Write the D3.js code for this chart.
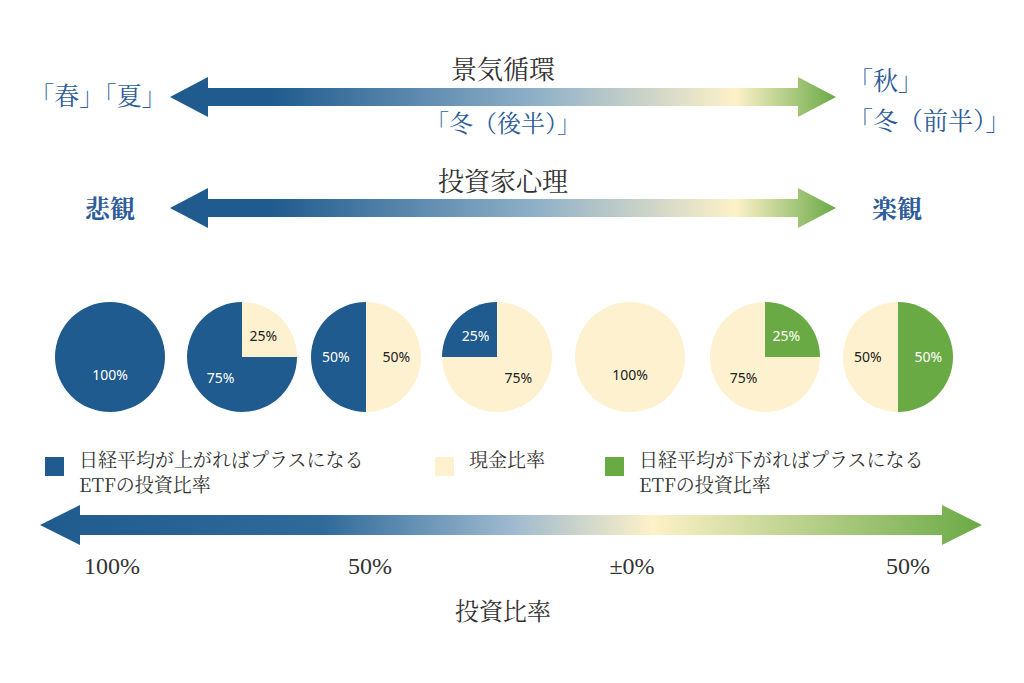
<!DOCTYPE html>
<html><head><meta charset="utf-8">
<script src="https://cdn.jsdelivr.net/npm/d3@7"></script>
<style>body{margin:0;background:#fff}svg{display:block}</style>
</head><body>
<svg id="c" width="1024" height="683"></svg>
<script>
const BLUE = "#1f5b8e", CREAM = "#fdf1cf", GREEN = "#6aaa45";

// pies: [green, cash, long ETF]
const pieNames = ["green", "cash", "blue"];
const pieValues = [
  [0, 0, 100], [0, 25, 75], [0, 50, 50], [0, 75, 25],
  [0, 100, 0], [25, 75, 0], [50, 50, 0]
];
const bottomTicks = ["100%", "50%", "±0%", "50%"];
const legendItems = [
  ["日経平均が上がればプラスになる", "ETFの投資比率"],
  ["現金比率"],
  ["日経平均が下がればプラスになる", "ETFの投資比率"]
];

const svg = d3.select("#c");
const defs = svg.append("defs");
function grad(id, stops) {
  const g = defs.append("linearGradient").attr("id", id);
  stops.forEach(([o, c]) => g.append("stop").attr("offset", o).attr("stop-color", c));
}
grad("g1", [[0, BLUE], [0.15, BLUE], [0.55, "#8fb0c8"], [0.85, "#fdf1c8"], [1, GREEN]]);
grad("g3", [[0, BLUE], [0.3, "#2f6a99"], [0.5, "#9db9cf"], [0.65, "#fdf1c8"], [1, GREEN]]);

function arrow(x0, x1, y, fill, shaft = 9, head = 20, hl = 38) {
  const p = d3.path();
  p.moveTo(x0, y); p.lineTo(x0 + hl, y - head); p.lineTo(x0 + hl, y - shaft);
  p.lineTo(x1 - hl, y - shaft); p.lineTo(x1 - hl, y - head); p.lineTo(x1, y);
  p.lineTo(x1 - hl, y + head); p.lineTo(x1 - hl, y + shaft); p.lineTo(x0 + hl, y + shaft);
  p.lineTo(x0 + hl, y + head); p.closePath();
  svg.append("path").attr("d", p.toString()).attr("fill", fill);
}
arrow(170, 836, 97, "url(#g1)");
arrow(170, 836, 208, "url(#g1)");
arrow(40, 982, 525, "url(#g3)", 10, 20, 40);

function txt(x, y, s, opt = {}) {
  svg.append("text").attr("x", x).attr("y", y).text(s)
    .attr("text-anchor", opt.a || "middle")
    .attr("font-family", opt.f || "'Noto Serif CJK JP','Noto Sans CJK JP',serif")
    .attr("font-size", opt.s || 24).attr("font-weight", opt.w || 400)
    .attr("fill", opt.c || "#333");
}
const SB = "#2d5c99";
txt(503, 79, "景気循環", {s: 26});
txt(503, 132, "「冬（後半）」", {c: SB});
txt(98, 105, "「春」「夏」", {c: SB, s: 25});
txt(848, 90, "「秋」", {c: SB, a: "start", s: 25});
txt(848, 130, "「冬（前半）」", {c: SB, a: "start", s: 25});
txt(503, 191, "投資家心理", {s: 26});
txt(110, 218, "悲観", {c: SB, w: 700, s: 25});
txt(897, 218, "楽観", {c: SB, w: 700, s: 25});

const cx = [110, 242, 366, 497, 630, 765, 898], cy = 357, r = 55;
const arc = d3.arc().innerRadius(0).outerRadius(r);
const lab = d3.arc().innerRadius(r * 0.55).outerRadius(r * 0.55);
const col = {green: GREEN, cash: CREAM, blue: BLUE};
pieValues.forEach((vals, i) => {
  const g = svg.append("g").attr("transform", `translate(${cx[i]},${cy})`);
  const arcs = d3.pie().sort(null).value(d => d.v)(vals.map((v, k) => ({n: pieNames[k], v})).filter(d => d.v > 0));
  g.selectAll("path").data(arcs).join("path").attr("d", arc).attr("fill", d => col[d.data.n]);
  g.selectAll("text").data(arcs).join("text")
    .attr("transform", d => d.data.v === 100 ? "translate(0,18)" : `translate(${lab.centroid(d)})`)
    .attr("text-anchor", "middle").attr("dy", "0.35em")
    .attr("font-family", "'Noto Sans',sans-serif").attr("font-size", 14)
    .attr("fill", d => d.data.n === "cash" ? "#222" : "#fff")
    .text(d => d.data.v + "%");
});

const lx = [45, 435, 605], lc = [BLUE, CREAM, GREEN];
legendItems.forEach((lines, i) => {
  svg.append("rect").attr("x", lx[i]).attr("y", 457).attr("width", 19).attr("height", 19).attr("fill", lc[i]);
  lines.forEach((s, j) => txt(lx[i] + 34, 467 + j * 25, s, {a: "start", s: 19, c: "#333"}));
});

const bx = [112, 370, 632, 908];
bottomTicks.forEach((t, i) => txt(bx[i], 574, t, {s: 24, f: "'Liberation Serif','Noto Serif CJK JP',serif"}));
txt(503, 620, "投資比率", {s: 24});
</script>
</body></html>
